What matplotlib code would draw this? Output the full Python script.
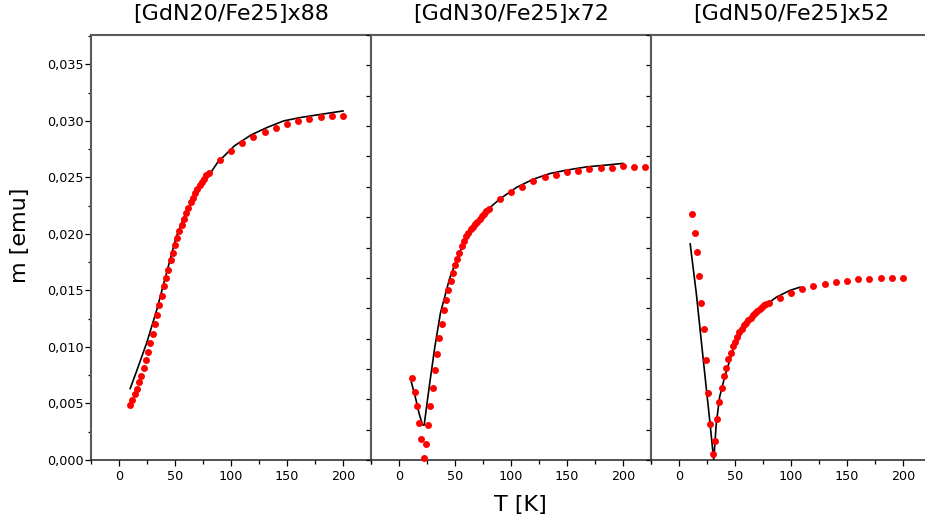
import numpy as np
import matplotlib
matplotlib.use('Agg')
import matplotlib.pyplot as plt
from matplotlib.ticker import MultipleLocator, FixedLocator, FuncFormatter

# datos (T en K, m en emu)

titulos = ['[GdN20/Fe25]x88', '[GdN30/Fe25]x72', '[GdN50/Fe25]x52']

# GdN20
t1 = [10, 12, 14, 16, 18, 20, 22, 24, 26, 28, 30, 32, 34, 36, 38, 40, 42, 44,
      46, 48, 50, 52, 54, 56, 58, 60, 62, 64, 66, 68, 70, 72, 74, 76, 78, 80,
      90, 100, 110, 120, 130, 140, 150, 160, 170, 180, 190, 200]
m1 = [0.00488, 0.00535, 0.00580, 0.00632, 0.00688, 0.00747, 0.00815, 0.00885,
      0.00956, 0.01035, 0.01118, 0.01203, 0.01285, 0.01368, 0.01450, 0.01535,
      0.01612, 0.01685, 0.01765, 0.01835, 0.01900, 0.01965, 0.02024, 0.02082,
      0.02132, 0.02182, 0.02230, 0.02280, 0.02320, 0.02360, 0.02400, 0.02430,
      0.02460, 0.02490, 0.02520, 0.02540,
      0.02653, 0.02735, 0.02803, 0.02859, 0.02903, 0.02938, 0.02970, 0.02997,
      0.03018, 0.03032, 0.03044, 0.03044]
t1_ajuste = [10, 16, 25, 34, 43, 51, 58, 73, 88, 103, 118, 132, 147, 162, 177, 200]
m1_ajuste = [0.00632, 0.00794, 0.01044, 0.01338, 0.01676, 0.01970, 0.02147,
             0.02412, 0.02632, 0.02779, 0.02876, 0.02941, 0.03000, 0.03030,
             0.03053, 0.03088]

# GdN30
t2 = [12, 14, 16, 18, 20, 22, 24, 26, 28, 30, 32, 34, 36, 38, 40, 42, 44, 46,
      48, 50, 52, 54, 56, 58, 60, 62, 64, 66, 68, 70, 72, 74, 76, 78, 80,
      90, 100, 110, 120, 130, 140, 150, 160, 170, 180, 190, 200, 210, 220]
m2 = [0.00726, 0.00606, 0.00476, 0.00329, 0.00182, 0.00020, 0.00141, 0.00306,
      0.00476, 0.00641, 0.00800, 0.00941, 0.01076, 0.01200, 0.01324, 0.01412,
      0.01500, 0.01582, 0.01656, 0.01721, 0.01779, 0.01835, 0.01890, 0.01940,
      0.01980, 0.02010, 0.02040, 0.02060, 0.02090, 0.02110, 0.02130, 0.02160,
      0.02180, 0.02200, 0.02220,
      0.02306, 0.02370, 0.02418, 0.02465, 0.02500, 0.02520, 0.02544, 0.02559,
      0.02574, 0.02582, 0.02585, 0.02597, 0.02594, 0.02594]
t2_ajuste = [11, 14.5, 18, 21, 22.5, 25, 28, 32, 37, 45, 54, 66, 78, 90, 105,
             120, 135, 150, 168, 188, 200]
m2_ajuste = [0.00690, 0.00560, 0.00410, 0.00310, 0.00310, 0.00500, 0.00720,
             0.01000, 0.01300, 0.01600, 0.01838, 0.02059, 0.02206, 0.02309,
             0.02412, 0.02485, 0.02535, 0.02565, 0.02594, 0.02612, 0.02624]

# GdN50
t3 = [12, 14, 16, 18, 20, 22, 24, 26, 28, 30, 32, 34, 36, 38, 40, 42, 44, 46,
      48, 50, 52, 54, 56, 58, 60, 62, 64, 66, 68, 70, 72, 74, 76, 78, 80,
      90, 100, 110, 120, 130, 140, 150, 160, 170, 180, 190, 200]
m3 = [0.02179, 0.02012, 0.01841, 0.01629, 0.01391, 0.01156, 0.00885, 0.00597,
      0.00315, 0.00053, 0.00165, 0.00359, 0.00515, 0.00635, 0.00741, 0.00818,
      0.00891, 0.00950, 0.01006, 0.01044, 0.01090, 0.01130, 0.01160, 0.01190,
      0.01210, 0.01240, 0.01260, 0.01280, 0.01300, 0.01320, 0.01340, 0.01350,
      0.01370, 0.01380, 0.01390,
      0.01432, 0.01476, 0.01512, 0.01535, 0.01553, 0.01576, 0.01588, 0.01597,
      0.01603, 0.01609, 0.01609, 0.01612]
t3_ajuste = [10, 15.5, 21.4, 27.4, 31, 33.3, 36.3, 40.8, 48, 60, 75, 87, 99, 108]
m3_ajuste = [0.01912, 0.01470, 0.00912, 0.00353, 0.0, 0.00324, 0.00559,
             0.00735, 0.00970, 0.01206, 0.01353, 0.01441, 0.01500, 0.01529]

series = [(t1, m1, t1_ajuste, m1_ajuste),
          (t2, m2, t2_ajuste, m2_ajuste),
          (t3, m3, t3_ajuste, m3_ajuste)]

W, H = 925, 530
fig = plt.figure(figsize=(W / 100, H / 100), dpi=100)

x0, ancho = 91, 280
arriba, abajo = 35, 460
y_max = 0.0376

for i, (t, m, ta, ma) in enumerate(series):
    izq = x0 + i * ancho
    ax = fig.add_axes([izq / W, (H - abajo) / H, ancho / W, (abajo - arriba) / H])
    ax.plot(ta, ma, '-', color='black', lw=1.2, zorder=2)
    ax.plot(t, m, 'o', color='#ff0000', ms=5.0, mew=0, zorder=3, clip_on=False)
    ax.set_xlim(-25, 225)
    ax.set_ylim(0, y_max)

    for lado in ['top', 'right', 'left']:
        ax.spines[lado].set_color('#5a5a5a')
        ax.spines[lado].set_linewidth(1.5)
    ax.spines['bottom'].set_color('#222222')
    ax.spines['bottom'].set_linewidth(1.1)

    ax.xaxis.set_major_locator(MultipleLocator(50))
    ax.xaxis.set_minor_locator(MultipleLocator(25))
    ax.tick_params(axis='x', which='major', direction='out', length=4,
                   width=0.9, pad=3.5, labelsize=9.2)
    ax.tick_params(axis='x', which='minor', direction='out', length=3, width=0.9)

    if i == 0:
        ax.yaxis.set_major_locator(MultipleLocator(0.005))
        ax.yaxis.set_minor_locator(MultipleLocator(0.0025))
        ax.yaxis.set_major_formatter(
            FuncFormatter(lambda v, p: f'{v:.3f}'.replace('.', ',')))
        ax.tick_params(axis='y', which='major', direction='out', length=4.5,
                       width=0.9, pad=1.0, labelsize=9.2)
        ax.tick_params(axis='y', which='minor', direction='out', length=2.5,
                       width=0.9)
    else:
        ax.yaxis.set_major_locator(FixedLocator(np.linspace(0, y_max, 15)))
        ax.tick_params(axis='y', which='major', direction='out', length=3.5,
                       width=0.9, labelleft=False)

    ax.set_title(titulos[i], fontsize=16, pad=11)

fig.text(20.5 / W, 1 - 235.5 / H, 'm [emu]', rotation=90, fontsize=16,
         ha='center', va='center')
fig.text(520 / W, (H - 511) / H, 'T [K]', fontsize=16, ha='center',
         va='baseline')

fig.savefig('out.png', dpi=100)
